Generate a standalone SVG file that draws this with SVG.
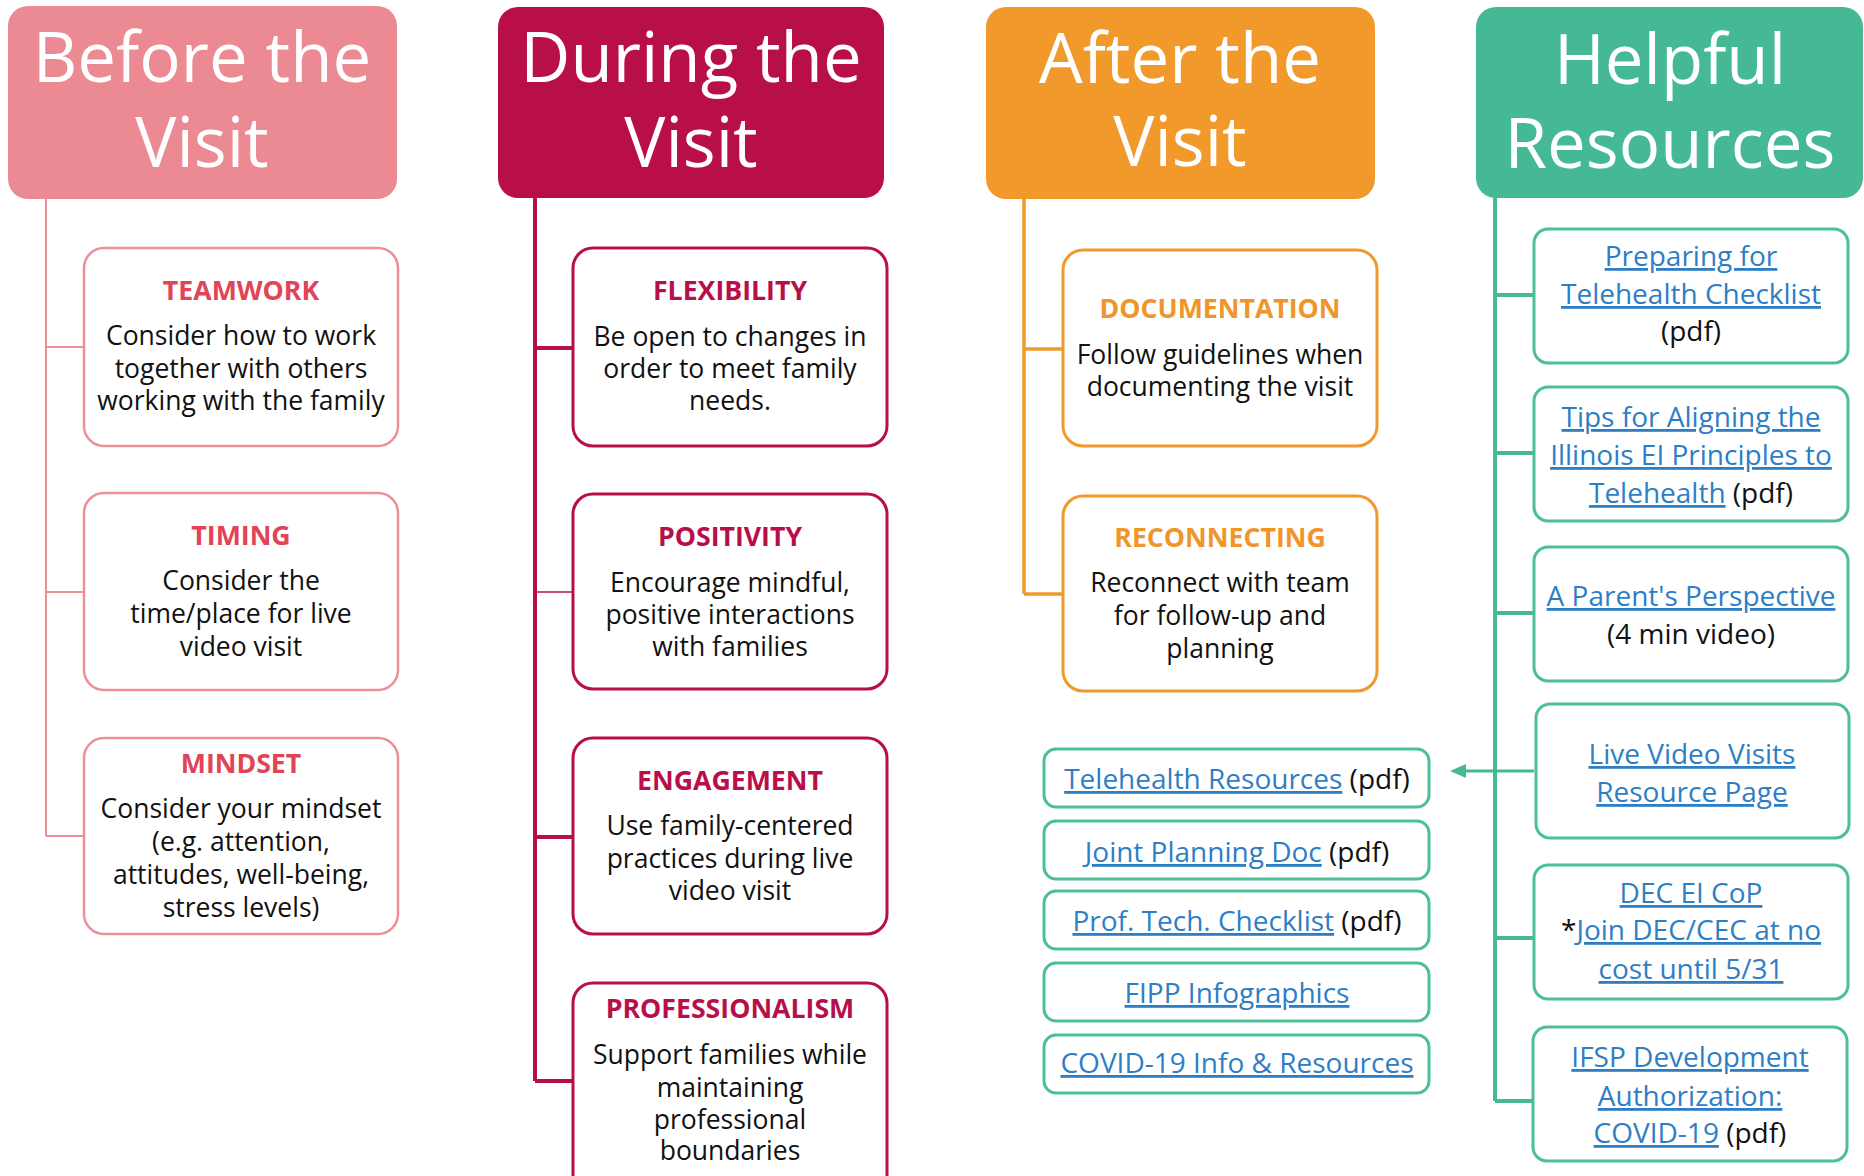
<svg xmlns="http://www.w3.org/2000/svg" width="1864" height="1176" viewBox="0 0 1864 1176">
<style>
text{font-family:"Open Sans","Liberation Sans",sans-serif;text-anchor:middle}
.hd{font-size:69px;fill:#fff}
.lb{font-size:26.7px;font-weight:bold}
.bd{font-size:26.5px;fill:#111}
.lk{font-size:28px;fill:#111}
.u{fill:#2e7ec6;text-decoration:underline}
.box{fill:#fff}
.pk{stroke:#ec8f98;stroke-width:2.5}
.cr{stroke:#b80f4a;stroke-width:3}
.or{stroke:#f19a2b;stroke-width:3}
.gr{stroke:#4cbf96;stroke-width:3}
.c{fill:none}
</style>
<defs>
<marker id="ah" markerWidth="16" markerHeight="14" refX="0" refY="7" orient="auto" markerUnits="userSpaceOnUse">
<path d="M0,0 L16,7 L0,14 z" fill="#45b995"/>
</marker>
</defs>

<g id="connectors" class="c">
<path d="M46,199 V836 M46,347 H84 M46,592 H84 M46,836 H84" stroke="#ec8f98" stroke-width="2"/>
<path d="M535,198 V1081 M535,348 H573 M535,837 H573 M535,1081 H573" stroke="#b80f4a" stroke-width="4"/>
<path d="M535,592 H573" stroke="#b80f4a" stroke-width="1.5"/>
<path d="M1024,199 V594 M1024,349 H1063 M1024,594 H1063" stroke="#f19a2b" stroke-width="3.5"/>
<path d="M1495,198 V1101 M1495,295 H1534 M1495,453 H1534 M1495,613 H1534 M1495,938 H1534 M1495,1101 H1534" stroke="#45b995" stroke-width="4"/>
<path d="M1534,771 H1466" stroke="#45b995" stroke-width="3" marker-end="url(#ah)"/>
</g>

<g id="before-header">
<rect x="8" y="6" width="389" height="193" rx="20" fill="#eb8a93"/>
<text class="hd" x="202" y="82">Before the</text>
<text class="hd" x="202" y="167">Visit</text>
</g>
<g id="teamwork">
<rect class="box pk" x="84" y="248" width="314" height="198" rx="20"/>
<text class="lb" x="241" y="300" fill="#e04456">TEAMWORK</text>
<text class="bd" x="241" y="345">Consider how to work</text>
<text class="bd" x="241" y="378">together with others</text>
<text class="bd" x="241" y="410">working with the family</text>
</g>
<g id="timing">
<rect class="box pk" x="84" y="493" width="314" height="197" rx="20"/>
<text class="lb" x="241" y="545" fill="#e04456">TIMING</text>
<text class="bd" x="241" y="590">Consider the</text>
<text class="bd" x="241" y="623">time/place for live</text>
<text class="bd" x="241" y="656">video visit</text>
</g>
<g id="mindset">
<rect class="box pk" x="84" y="738" width="314" height="196" rx="20"/>
<text class="lb" x="241" y="773" fill="#e04456">MINDSET</text>
<text class="bd" x="241" y="818">Consider your mindset</text>
<text class="bd" x="241" y="851">(e.g. attention,</text>
<text class="bd" x="241" y="884">attitudes, well-being,</text>
<text class="bd" x="241" y="917">stress levels)</text>
</g>

<g id="during-header">
<rect x="498" y="7" width="386" height="191" rx="20" fill="#b80f4a"/>
<text class="hd" x="691" y="82">During the</text>
<text class="hd" x="691" y="167">Visit</text>
</g>
<g id="flexibility">
<rect class="box cr" x="573" y="248" width="314" height="198" rx="20"/>
<text class="lb" x="730" y="300" fill="#b80f4a">FLEXIBILITY</text>
<text class="bd" x="730" y="346">Be open to changes in</text>
<text class="bd" x="730" y="378">order to meet family</text>
<text class="bd" x="730" y="410">needs.</text>
</g>
<g id="positivity">
<rect class="box cr" x="573" y="494" width="314" height="195" rx="20"/>
<text class="lb" x="730" y="546" fill="#b80f4a">POSITIVITY</text>
<text class="bd" x="730" y="592">Encourage mindful,</text>
<text class="bd" x="730" y="624">positive interactions</text>
<text class="bd" x="730" y="656">with families</text>
</g>
<g id="engagement">
<rect class="box cr" x="573" y="738" width="314" height="196" rx="20"/>
<text class="lb" x="730" y="790" fill="#b80f4a">ENGAGEMENT</text>
<text class="bd" x="730" y="835">Use family-centered</text>
<text class="bd" x="730" y="868">practices during live</text>
<text class="bd" x="730" y="900">video visit</text>
</g>
<g id="professionalism">
<rect class="box cr" x="573" y="983" width="314" height="215" rx="20"/>
<text class="lb" x="730" y="1018" fill="#b80f4a">PROFESSIONALISM</text>
<text class="bd" x="730" y="1064">Support families while</text>
<text class="bd" x="730" y="1097">maintaining</text>
<text class="bd" x="730" y="1129">professional</text>
<text class="bd" x="730" y="1160">boundaries</text>
</g>

<g id="after-header">
<rect x="986" y="7" width="389" height="192" rx="20" fill="#f19a2b"/>
<text class="hd" x="1180" y="83">After the</text>
<text class="hd" x="1180" y="166">Visit</text>
</g>
<g id="documentation">
<rect class="box or" x="1063" y="250" width="314" height="196" rx="20"/>
<text class="lb" x="1220" y="318" fill="#f0952a">DOCUMENTATION</text>
<text class="bd" x="1220" y="364">Follow guidelines when</text>
<text class="bd" x="1220" y="396">documenting the visit</text>
</g>
<g id="reconnecting">
<rect class="box or" x="1063" y="496" width="314" height="195" rx="20"/>
<text class="lb" x="1220" y="547" fill="#f0952a">RECONNECTING</text>
<text class="bd" x="1220" y="592">Reconnect with team</text>
<text class="bd" x="1220" y="625">for follow-up and</text>
<text class="bd" x="1220" y="658">planning</text>
</g>

<g id="link-telehealth-resources">
<rect class="box gr" x="1044" y="749" width="385" height="58" rx="12"/>
<text class="lk" x="1237" y="789"><tspan class="u">Telehealth Resources</tspan> (pdf)</text>
</g>
<g id="link-joint-planning">
<rect class="box gr" x="1044" y="821" width="385" height="58" rx="12"/>
<text class="lk" x="1237" y="862"><tspan class="u">Joint Planning Doc</tspan> (pdf)</text>
</g>
<g id="link-prof-tech">
<rect class="box gr" x="1044" y="891" width="385" height="58" rx="12"/>
<text class="lk" x="1237" y="931"><tspan class="u">Prof. Tech. Checklist</tspan> (pdf)</text>
</g>
<g id="link-fipp">
<rect class="box gr" x="1044" y="963" width="385" height="58" rx="12"/>
<text class="lk" x="1237" y="1003"><tspan class="u">FIPP Infographics</tspan></text>
</g>
<g id="link-covid">
<rect class="box gr" x="1044" y="1035" width="385" height="58" rx="12"/>
<text class="lk" x="1237" y="1073"><tspan class="u">COVID-19 Info &amp; Resources</tspan></text>
</g>

<g id="resources-header">
<rect x="1476" y="7" width="387" height="191" rx="20" fill="#45b995"/>
<text class="hd" x="1670" y="84">Helpful</text>
<text class="hd" x="1670" y="168">Resources</text>
</g>
<g id="preparing">
<rect class="box gr" x="1534" y="229" width="314" height="134" rx="14"/>
<text class="lk" x="1691" y="266"><tspan class="u">Preparing for</tspan></text>
<text class="lk" x="1691" y="304"><tspan class="u">Telehealth Checklist</tspan></text>
<text class="lk" x="1691" y="341">(pdf)</text>
</g>
<g id="tips">
<rect class="box gr" x="1534" y="387" width="314" height="134" rx="14"/>
<text class="lk" x="1691" y="427"><tspan class="u">Tips for Aligning the</tspan></text>
<text class="lk" x="1691" y="465"><tspan class="u">Illinois EI Principles to</tspan></text>
<text class="lk" x="1691" y="503"><tspan class="u">Telehealth</tspan> (pdf)</text>
</g>
<g id="parent">
<rect class="box gr" x="1534" y="547" width="314" height="134" rx="14"/>
<text class="lk" x="1691" y="606"><tspan class="u">A Parent's Perspective</tspan></text>
<text class="lk" x="1691" y="644">(4 min video)</text>
</g>
<g id="live-video">
<rect class="box gr" x="1536" y="704" width="313" height="134" rx="14"/>
<text class="lk" x="1692" y="764"><tspan class="u">Live Video Visits</tspan></text>
<text class="lk" x="1692" y="802"><tspan class="u">Resource Page</tspan></text>
</g>
<g id="dec">
<rect class="box gr" x="1534" y="865" width="314" height="134" rx="14"/>
<text class="lk" x="1691" y="903"><tspan class="u">DEC EI CoP</tspan></text>
<text class="lk" x="1691" y="940">*<tspan class="u">Join DEC/CEC at no</tspan></text>
<text class="lk" x="1691" y="979"><tspan class="u">cost until 5/31</tspan></text>
</g>
<g id="ifsp">
<rect class="box gr" x="1533" y="1027" width="314" height="134" rx="14"/>
<text class="lk" x="1690" y="1067"><tspan class="u">IFSP Development</tspan></text>
<text class="lk" x="1690" y="1106"><tspan class="u">Authorization:</tspan></text>
<text class="lk" x="1690" y="1143"><tspan class="u">COVID-19</tspan> (pdf)</text>
</g>
</svg>
